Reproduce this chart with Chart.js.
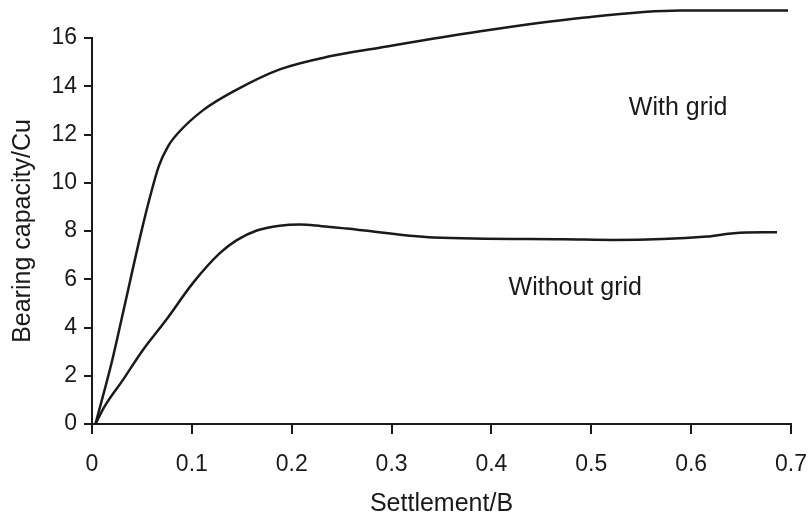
<!DOCTYPE html>
<html>
<head>
<meta charset="utf-8">
<script src="https://cdn.jsdelivr.net/npm/chart.js@4/dist/chart.umd.min.js"></script>
<style>
  html, body { margin: 0; padding: 0; background: #fff; }
  #wrap { width: 809px; height: 519px; }
</style>
</head>
<body>
<div id="wrap"><canvas id="bearing"></canvas></div>
<script>
  // values (settlement/B, bearing capacity/Cu)
  var withGridX = [0.0035, 0.02, 0.031, 0.049, 0.058, 0.067, 0.076, 0.086, 0.111, 0.145, 0.188, 0.238, 0.288, 0.389, 0.489, 0.589, 0.697];
  var withGridY = [0, 2.6, 4.6, 7.9, 9.4, 10.7, 11.5, 12.05, 13.0, 13.86, 14.7, 15.24, 15.6, 16.28, 16.83, 17.14, 17.14];

  var withoutGridX = [0.0035, 0.0125, 0.031, 0.051, 0.074, 0.101, 0.128, 0.145, 0.165, 0.188, 0.208, 0.23, 0.255, 0.342, 0.472, 0.522, 0.616, 0.643, 0.686];
  var withoutGridY = [0, 0.72, 1.83, 3.07, 4.3, 5.84, 7.08, 7.62, 8.02, 8.22, 8.27, 8.2, 8.1, 7.73, 7.66, 7.63, 7.77, 7.91, 7.95];

  var xTicks = [0, 0.1, 0.2, 0.3, 0.4, 0.5, 0.6, 0.7];
  var yTicks = [0, 2, 4, 6, 8, 10, 12, 14, 16];

  var seriesNames = ['With grid', 'Without grid'];

  function toPoints(xs, ys) {
    var pts = [];
    for (var i = 0; i < xs.length; i++) {
      pts.push({ x: xs[i], y: ys[i] });
    }
    return pts;
  }

  var ink = '#1a1a1a';
  var fontFamily = '"Liberation Sans", Arial, sans-serif';

  // curve labels, placed in data units
  var curveLabels = {
    id: 'curveLabels',
    afterDatasetsDraw: function (chart) {
      var ctx = chart.ctx;
      var xs = chart.scales.x, ys = chart.scales.y;
      ctx.save();
      ctx.fillStyle = ink;
      ctx.font = '25px ' + fontFamily;
      ctx.textAlign = 'center';
      ctx.textBaseline = 'middle';
      ctx.fillText(seriesNames[0], xs.getPixelForValue(0.587), ys.getPixelForValue(13.1));
      ctx.fillText(seriesNames[1], xs.getPixelForValue(0.484), ys.getPixelForValue(5.65));
      ctx.restore();
    }
  };

  new Chart(document.getElementById('bearing'), {
    type: 'scatter',
    data: {
      datasets: [
        {
          label: seriesNames[0],
          data: toPoints(withGridX, withGridY),
          showLine: true,
          borderColor: ink,
          borderWidth: 2.5,
          pointRadius: 0,
          cubicInterpolationMode: 'monotone',
          clip: false
        },
        {
          label: seriesNames[1],
          data: toPoints(withoutGridX, withoutGridY),
          showLine: true,
          borderColor: ink,
          borderWidth: 2.5,
          pointRadius: 0,
          cubicInterpolationMode: 'monotone',
          clip: false
        }
      ]
    },
    options: {
      responsive: true,
      maintainAspectRatio: false,
      animation: false,
      layout: {
        padding: { top: 38, right: 18, left: 0, bottom: 0 }
      },
      scales: {
        x: {
          type: 'linear',
          min: 0,
          max: 0.7,
          afterFit: function (scale) {
            scale.height = 95;
            scale.paddingLeft = 0;
            scale.paddingRight = 0;
          },
          afterBuildTicks: function (scale) {
            scale.ticks = xTicks.map(function (v) { return { value: v }; });
          },
          ticks: {
            color: ink,
            padding: 17,
            maxRotation: 0,
            font: { family: fontFamily, size: 23 },
            callback: function (v) { return v === 0 ? '0' : v.toFixed(1); }
          },
          grid: {
            drawOnChartArea: false,
            drawTicks: true,
            tickLength: 10,
            color: ink,
            lineWidth: 2
          },
          border: { display: true, color: ink, width: 2 },
          title: {
            display: true,
            text: 'Settlement/B',
            color: ink,
            font: { family: fontFamily, size: 25 },
            padding: { top: 3, bottom: 0 }
          }
        },
        y: {
          type: 'linear',
          min: 0,
          max: 16,
          afterFit: function (scale) { scale.width = 92; },
          afterBuildTicks: function (scale) {
            scale.ticks = yTicks.map(function (v) { return { value: v }; });
          },
          ticks: {
            color: ink,
            padding: 7,
            font: { family: fontFamily, size: 23 }
          },
          grid: {
            drawOnChartArea: false,
            drawTicks: true,
            tickLength: 8,
            color: ink,
            lineWidth: 2
          },
          border: { display: true, color: ink, width: 2 },
          title: {
            display: true,
            text: 'Bearing capacity/Cu',
            color: ink,
            font: { family: fontFamily, size: 25 },
            padding: { top: 8, bottom: 0 }
          }
        }
      },
      plugins: {
        legend: { display: false },
        tooltip: { enabled: false }
      }
    },
    plugins: [curveLabels]
  });
</script>
</body>
</html>
